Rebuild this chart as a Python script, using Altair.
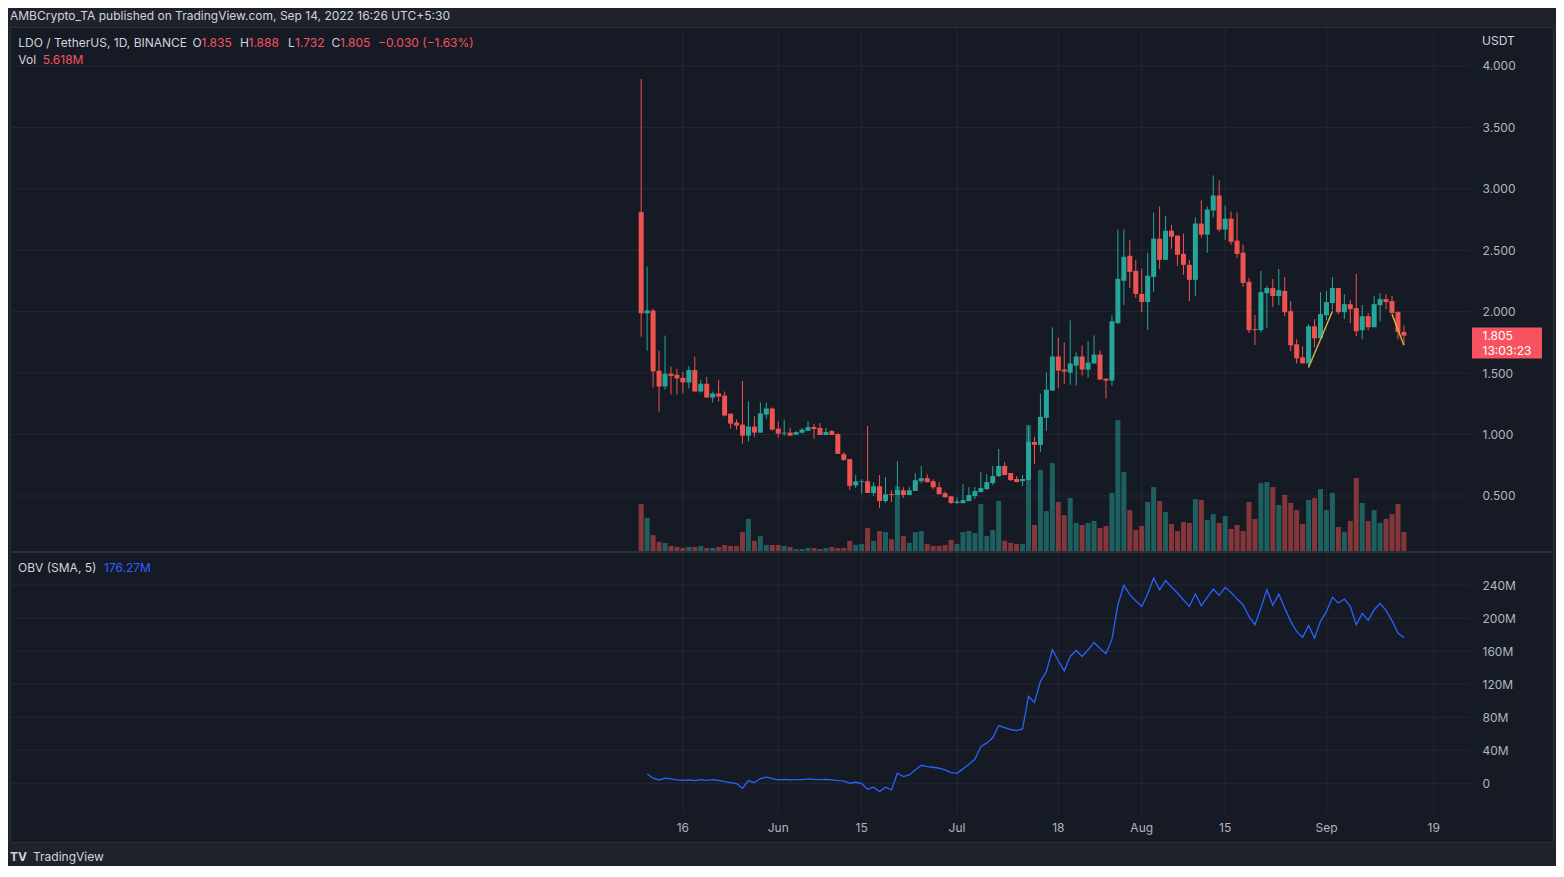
import altair as alt
import pandas as pd
from datetime import datetime, timezone

# ---------------- data ----------------
START_DATE = "2022-05-09"

opens = [2.81, 1.987, 2.009, 1.519, 1.391, 1.495, 1.486, 1.462, 1.424, 1.524,
         1.35, 1.413, 1.301, 1.334, 1.317, 1.17, 1.097, 1.081, 0.991, 1.065,
         1.016, 1.163, 1.212, 1.048, 1.007, 1.015, 0.999, 1.015, 1.031, 1.061,
         1.053, 0.996, 1.028, 1.004, 0.84, 0.8, 0.586, 0.614, 0.62, 0.524,
         0.579, 0.459, 0.516, 0.508, 0.546, 0.508, 0.541, 0.62, 0.645, 0.62,
         0.571, 0.522, 0.497, 0.443, 0.441, 0.458, 0.499, 0.531, 0.556, 0.605,
         0.662, 0.744, 0.687, 0.638, 0.621, 0.629, 0.94, 0.916, 1.136, 1.357,
         1.635, 1.529, 1.504, 1.561, 1.635, 1.529, 1.578, 1.651, 1.455, 1.439,
         1.907, 2.251, 2.455, 2.332, 2.144, 2.079, 2.283, 2.594, 2.422, 2.659,
         2.619, 2.471, 2.381, 2.259, 2.717, 2.627, 2.823, 2.946, 2.668, 2.757,
         2.578, 2.48, 2.243, 1.858, 1.849, 2.151, 2.192, 2.127, 2.168, 2.004,
         1.734, 1.628, 1.579, 1.881, 1.783, 1.971, 2.07, 2.192, 1.996, 2.061,
         2.029, 1.849, 1.963, 1.873, 2.053, 2.102, 2.086, 1.996, 1.835]

highs = [3.894, 2.368, 2.025, 1.682, 1.805, 1.552, 1.535, 1.51, 1.556, 1.633,
         1.446, 1.47, 1.35, 1.446, 1.35, 1.17, 1.122, 1.437, 1.269, 1.147,
         1.261, 1.261, 1.22, 1.106, 1.122, 1.056, 1.028, 1.053, 1.11, 1.086,
         1.094, 1.053, 1.037, 1.012, 0.857, 0.8, 0.669, 0.636, 1.069, 0.612,
         0.669, 0.653, 0.546, 0.783, 0.571, 0.571, 0.685, 0.743, 0.677, 0.636,
         0.612, 0.538, 0.497, 0.49, 0.597, 0.572, 0.572, 0.695, 0.678, 0.744,
         0.883, 0.777, 0.687, 0.662, 0.67, 1.071, 0.982, 1.332, 1.504, 1.872,
         1.79, 1.749, 1.929, 1.668, 1.725, 1.758, 1.807, 1.684, 1.455, 1.97,
         2.668, 2.668, 2.586, 2.422, 2.349, 2.48, 2.807, 2.856, 2.782, 2.708,
         2.619, 2.635, 2.422, 2.766, 2.905, 2.856, 3.109, 3.068, 2.864, 2.815,
         2.807, 2.545, 2.275, 1.973, 2.331, 2.209, 2.266, 2.347, 2.282, 2.086,
         1.775, 1.718, 1.897, 1.939, 2.159, 2.168, 2.282, 2.192, 2.143, 2.094,
         2.307, 2.053, 1.988, 2.127, 2.151, 2.143, 2.127, 2.004, 1.888]

lows = [1.797, 1.682, 1.383, 1.187, 1.366, 1.326, 1.326, 1.334, 1.375, 1.35,
        1.342, 1.301, 1.261, 1.268, 1.147, 1.048, 1.04, 0.926, 0.942, 0.983,
        1.016, 1.13, 1.032, 0.975, 0.99, 0.991, 0.999, 1.007, 1.031, 0.966,
        0.996, 0.996, 0.996, 0.843, 0.786, 0.549, 0.565, 0.516, 0.524, 0.5,
        0.402, 0.443, 0.451, 0.508, 0.484, 0.508, 0.541, 0.604, 0.612, 0.554,
        0.514, 0.489, 0.435, 0.435, 0.441, 0.458, 0.474, 0.531, 0.548, 0.589,
        0.654, 0.67, 0.621, 0.613, 0.58, 0.629, 0.76, 0.858, 1.03, 1.357,
        1.381, 1.414, 1.406, 1.398, 1.48, 1.463, 1.578, 1.447, 1.292, 1.398,
        1.899, 2.055, 2.193, 2.112, 1.997, 1.85, 2.161, 2.349, 2.422, 2.512,
        2.373, 2.3, 2.087, 2.128, 2.602, 2.48, 2.766, 2.651, 2.586, 2.545,
        2.439, 2.202, 1.826, 1.728, 1.832, 1.865, 2.037, 2.053, 1.963, 1.677,
        1.579, 1.579, 1.546, 1.71, 1.783, 1.93, 2.012, 1.98, 1.939, 1.906,
        1.8, 1.775, 1.849, 1.873, 1.922, 2.02, 1.988, 1.775, 1.732]

closes = [1.987, 2.01, 1.514, 1.391, 1.495, 1.478, 1.456, 1.424, 1.524, 1.35,
          1.413, 1.301, 1.334, 1.309, 1.155, 1.089, 1.073, 0.991, 1.065, 1.016,
          1.171, 1.212, 1.04, 1.007, 1.015, 0.991, 1.02, 1.04, 1.061, 1.045,
          0.996, 1.02, 0.996, 0.843, 0.794, 0.582, 0.618, 0.62, 0.524, 0.579,
          0.459, 0.514, 0.508, 0.546, 0.508, 0.546, 0.628, 0.645, 0.612, 0.571,
          0.514, 0.489, 0.443, 0.455, 0.466, 0.507, 0.54, 0.564, 0.613, 0.662,
          0.744, 0.67, 0.629, 0.613, 0.638, 0.94, 0.916, 1.144, 1.365, 1.635,
          1.52, 1.512, 1.578, 1.635, 1.529, 1.586, 1.651, 1.447, 1.439, 1.921,
          2.267, 2.447, 2.324, 2.144, 2.079, 2.292, 2.594, 2.422, 2.659, 2.61,
          2.463, 2.381, 2.259, 2.717, 2.627, 2.831, 2.946, 2.668, 2.757, 2.569,
          2.471, 2.234, 1.85, 1.85, 2.159, 2.192, 2.127, 2.176, 1.996, 1.726,
          1.62, 1.579, 1.881, 1.783, 1.98, 2.078, 2.192, 1.996, 2.061, 2.02,
          1.841, 1.963, 1.873, 2.061, 2.102, 2.078, 1.988, 1.835, 1.805]

volumes_m = [13.9, 9.8, 4.7, 2.7, 2.4, 1.5, 1.2, 0.9, 1.2, 1.2,
             1.5, 0.9, 0.9, 1.2, 1.8, 1.5, 1.5, 5.6, 9.5, 3.0,
             4.4, 1.8, 1.8, 1.8, 1.5, 1.2, 0.6, 0.6, 0.9, 0.9,
             0.6, 0.9, 1.2, 0.9, 0.9, 3.0, 1.8, 2.1, 6.8, 3.0,
             5.9, 5.6, 3.5, 19.2, 4.4, 2.4, 5.6, 5.9, 2.1, 1.5,
             1.5, 1.8, 3.3, 2.1, 5.6, 5.9, 5.3, 13.9, 4.4, 6.2,
             14.8, 3.0, 2.4, 2.1, 2.1, 37.3, 7.7, 24.0, 11.8, 26.0,
             14.5, 10.6, 15.7, 8.3, 7.7, 8.3, 8.9, 6.8, 7.4, 17.2,
             38.7, 23.4, 12.1, 6.2, 7.4, 14.5, 18.9, 14.8, 11.5, 8.0,
             5.9, 8.6, 8.3, 15.4, 15.1, 9.2, 10.9, 8.3, 10.3, 6.5,
             7.7, 5.9, 14.5, 9.5, 20.1, 20.4, 18.9, 13.6, 16.6, 14.2,
             12.1, 8.0, 15.1, 15.7, 18.3, 12.1, 17.2, 7.1, 5.6, 8.9,
             21.6, 14.2, 8.9, 12.1, 8.3, 9.5, 10.9, 13.9, 5.618]

# OBV (millions), from the second day on
obv_m = [11.3, 6.1, 4.0, 6.1, 5.3, 4.0, 3.6, 4.0, 3.2, 4.4,
         3.6, 4.4, 3.6, 2.0, 0.8, -0.4, -6.1, 3.2, 0.8, 5.7,
         7.3, 5.7, 4.0, 4.8, 4.0, 4.4, 4.4, 5.3, 4.8, 4.4,
         4.8, 4.0, 3.2, 2.8, 0.0, 1.2, -0.4, -7.3, -4.8, -10.1,
         -4.8, -8.1, 12.1, 8.1, 10.1, 16.2, 21.8, 20.2, 19.4, 18.2,
         16.2, 12.9, 12.1, 17.4, 23.0, 29.1, 44.4, 48.9, 55.0, 69.9,
         67.5, 65.1, 63.8, 65.7, 105.1, 97.8, 123.2, 135.4, 161.6, 148.3,
         136.2, 153.5, 160.8, 153.5, 161.6, 170.5, 163.2, 156.8, 174.5, 216.2,
         239.6, 228.3, 221.0, 214.1, 229.1, 248.5, 234.3, 245.3, 237.6, 230.3,
         222.2, 214.1, 229.1, 215.0, 225.1, 235.2, 227.5, 237.2, 231.1, 223.0,
         216.2, 202.0, 191.9, 212.1, 234.3, 215.4, 229.1, 212.1, 196.0, 183.8,
         176.6, 191.1, 175.8, 196.0, 208.1, 225.1, 218.2, 223.0, 214.1, 191.9,
         205.7, 197.2, 210.1, 217.8, 209.3, 196.8, 181.8, 176.27]

# drawn trend lines
trend_seg = [1, 1, 2, 2]
trend_dates = ["2022-08-29", "2022-09-02", "2022-09-12", "2022-09-14"]
trend_prices = [1.546, 2.004, 1.980, 1.726]

tick_dates = ["2022-05-16", "2022-06-01", "2022-06-15", "2022-07-01", "2022-07-18",
              "2022-08-01", "2022-08-15", "2022-09-01", "2022-09-19"]
tick_labels = ["16", "Jun", "15", "Jul", "18", "Aug", "15", "Sep", "19"]
price_ticks = [0.5, 1.0, 1.5, 2.0, 2.5, 3.0, 3.5, 4.0]
obv_ticks = [0, 40, 80, 120, 160, 200, 240]

# ---------------- styling / layout ----------------
FONT = "Inter"
BG_OUT = "#1f222b"
BG_IN = "#161a25"
BORDER = "#2b2f3b"
GRID = "#242834"
SEP = "#2a2e39"
TXT = "#b2b5be"
TXT2 = "#d1d4dc"
UP = "#26a69a"
DOWN = "#ef5350"
RED_TXT = "#f7525f"
BLUE = "#2962ff"
YELLOW = "#c9b23a"

W, H = 1543, 815          # whole chart area (page x 10..1553, y 27..842)
PLOT_W = 1460             # data area width (to the price axis)
PRICE_RANGE = [524, 0]
OBV_RANGE = [786, 525]
PRICE_DOM = [0.052, 4.317]
VOL_DOM = [0, 155]
OBV_DOM = [-36, 280]
PX_PER_UNIT = (PRICE_RANGE[0] - PRICE_RANGE[1]) / (PRICE_DOM[1] - PRICE_DOM[0])

DAY_MS = 86400000
PX_PER_DAY = 6.0
base_ms = datetime(2022, 5, 16, tzinfo=timezone.utc).timestamp() * 1000
base_px = 672.5
x_dom = [base_ms - base_px / PX_PER_DAY * DAY_MS,
         base_ms + (PLOT_W - base_px) / PX_PER_DAY * DAY_MS]

X_SCALE = alt.Scale(type="utc", domain=x_dom, range=[0, PLOT_W])
PRICE_SCALE = alt.Scale(domain=PRICE_DOM, range=PRICE_RANGE, zero=False, nice=False)
VOL_SCALE = alt.Scale(domain=VOL_DOM, range=PRICE_RANGE, nice=False)
OBV_SCALE = alt.Scale(domain=OBV_DOM, range=OBV_RANGE, zero=False, nice=False)

dates = pd.date_range(START_DATE, periods=len(closes), freq="D").strftime("%Y-%m-%d").tolist()
df = pd.DataFrame({"date": dates, "open": opens, "high": highs, "low": lows,
                   "close": closes, "vol": volumes_m})
df["dir"] = ["up" if c >= o else "down" for o, c in zip(opens, closes)]

obv_df = pd.DataFrame({"date": dates[1:], "obv": obv_m})
trend_df = pd.DataFrame({"seg": trend_seg, "date": trend_dates, "p": trend_prices})
ticks_df = pd.DataFrame({"date": tick_dates, "lab": tick_labels})

COLOR = alt.Color("dir:N", scale=alt.Scale(domain=["up", "down"], range=[UP, DOWN]), legend=None)
X_NOAXIS = alt.X("date:T", scale=X_SCALE, axis=None)

price_axis = alt.Axis(orient="right", offset=-(W - PLOT_W), values=price_ticks, format=".3f",
                      domain=False, ticks=False, tickSize=0, grid=False, labelPadding=12,
                      labelColor=TXT, labelFont=FONT, labelFontSize=12, title=None,
                      labelOverlap=False)

obv_axis = alt.Axis(orient="right", offset=-(W - PLOT_W), values=obv_ticks,
                    labelExpr="datum.value == 0 ? '0' : datum.value + 'M'",
                    domain=False, ticks=False, tickSize=0, grid=False, labelPadding=12,
                    labelColor=TXT, labelFont=FONT, labelFontSize=12, title=None,
                    labelOverlap=False)

# gridlines
vgrid = alt.Chart(ticks_df).mark_rule(color=GRID, strokeWidth=1).encode(
    x=X_NOAXIS, y=alt.value(0), y2=alt.value(OBV_RANGE[0]))

# time-axis labels, placed through the time scale
xlabels = alt.Chart(ticks_df).mark_text(align="center", baseline="middle", color=TXT,
                                        font=FONT, fontSize=12).encode(
    x=X_NOAXIS, y=alt.value(OBV_RANGE[0] + 15), text="lab:N")

pgrid = alt.Chart(pd.DataFrame({"p": price_ticks})).mark_rule(color=GRID, strokeWidth=1).encode(
    y=alt.Y("p:Q", scale=PRICE_SCALE, axis=price_axis),
    x=alt.value(0), x2=alt.value(PLOT_W))

ogrid = alt.Chart(pd.DataFrame({"g": obv_ticks})).mark_rule(color=GRID, strokeWidth=1).encode(
    y=alt.Y("g:Q", scale=OBV_SCALE, axis=obv_axis),
    x=alt.value(0), x2=alt.value(PLOT_W))

base = alt.Chart(df)

vol = base.mark_bar(width=5, opacity=0.5).encode(
    x=X_NOAXIS, y=alt.Y("vol:Q", scale=VOL_SCALE, axis=None), color=COLOR)

wicks = base.mark_rule(strokeWidth=1).encode(
    x=X_NOAXIS, y=alt.Y("low:Q", scale=PRICE_SCALE, axis=None), y2="high:Q", color=COLOR)

bodies = base.mark_bar(width=5).encode(
    x=X_NOAXIS, y=alt.Y("open:Q", scale=PRICE_SCALE, axis=None), y2="close:Q", color=COLOR)

trend = alt.Chart(trend_df).mark_line(color=YELLOW, strokeWidth=1.5).encode(
    x=X_NOAXIS, y=alt.Y("p:Q", scale=PRICE_SCALE, axis=None), detail="seg:N")

obv_line = alt.Chart(obv_df).mark_line(color=BLUE, strokeWidth=1.3).encode(
    x=X_NOAXIS, y=alt.Y("obv:Q", scale=OBV_SCALE, axis=None))

separator = alt.Chart(pd.DataFrame({"a": [0]})).mark_rule(color=SEP, strokeWidth=2).encode(
    x=alt.value(0), x2=alt.value(W), y=alt.value(PRICE_RANGE[0] + 1))

# last price marker
last_df = pd.DataFrame({"close": [closes[-1]]})
price_box = alt.Chart(last_df).transform_calculate(
    top=f"datum.close + {8.1 / PX_PER_UNIT}", bot=f"datum.close - {22.9 / PX_PER_UNIT}"
).mark_rect(color=RED_TXT).encode(
    y=alt.Y("top:Q", scale=PRICE_SCALE, axis=None), y2="bot:Q",
    x=alt.value(PLOT_W + 2), x2=alt.value(PLOT_W + 72))
price_txt = alt.Chart(last_df).mark_text(align="left", baseline="middle", color="white",
                                          font=FONT, fontSize=12).encode(
    y=alt.Y("close:Q", scale=PRICE_SCALE, axis=None), x=alt.value(PLOT_W + 12.5),
    text=alt.Text("close:Q", format=".3f"))
timer_txt = alt.Chart(last_df).mark_text(align="left", baseline="middle", color="white",
                                          font=FONT, fontSize=12, dy=15).encode(
    y=alt.Y("close:Q", scale=PRICE_SCALE, axis=None), x=alt.value(PLOT_W + 12.5),
    text=alt.value("13:03:23"))


def txt(s, x, y, color, size=12, weight="normal"):
    return alt.Chart(pd.DataFrame({"t": [s]})).mark_text(
        align="left", baseline="middle", color=color, font=FONT, fontSize=size,
        fontWeight=weight).encode(text="t:N", x=alt.value(x), y=alt.value(y))


chg = closes[-1] - closes[-2]
pct = chg / closes[-2] * 100
sign = "−" if chg < 0 else "+"
texts = [
    txt("AMBCrypto_TA published on TradingView.com, Sep 14, 2022 16:26 UTC+5:30", 0, -11.5, TXT2, 12),
    txt("LDO / TetherUS, 1D, BINANCE", 8.3, 15.7, TXT2, 12),
    txt("O", 182.5, 15.7, TXT2, 12), txt(f"{opens[-1]:.3f}", 191.5, 15.7, RED_TXT, 12),
    txt("H", 230, 15.7, TXT2, 12), txt(f"{highs[-1]:.3f}", 238.5, 15.7, RED_TXT, 12),
    txt("L", 278, 15.7, TXT2, 12), txt(f"{lows[-1]:.3f}", 285, 15.7, RED_TXT, 12),
    txt("C", 321.5, 15.7, TXT2, 12), txt(f"{closes[-1]:.3f}", 330, 15.7, RED_TXT, 12),
    txt(f"{sign}{abs(chg):.3f} ({sign}{abs(pct):.2f}%)", 368, 15.7, RED_TXT, 12),
    txt("Vol", 8.3, 33, TXT2, 12), txt(f"{volumes_m[-1]:.3f}M", 32.7, 33, RED_TXT, 12),
    txt("OBV (SMA, 5)", 8, 540.5, TXT2, 12), txt(f"{obv_m[-1]:.2f}M", 94, 540.5, BLUE, 12),
    txt("USDT", PLOT_W + 12, 14, TXT2, 12),
    txt("TV", 0, 830, TXT2, 12, "bold"),
    txt("TradingView", 23, 830, TXT2, 12),
]

chart = alt.layer(
    vgrid, pgrid, ogrid, vol, wicks, bodies, trend, obv_line, separator,
    price_box, price_txt, timer_txt, xlabels, *texts
).resolve_scale(y="independent").properties(
    width=W, height=H,
    autosize=alt.AutoSizeParams(type="none"),
    padding={"left": 2, "top": 19, "right": 3, "bottom": 24},
).configure(background=BG_OUT).configure_view(fill=BG_IN, stroke=BORDER, strokeWidth=1)

chart.save("out.html", embed_options={"renderer": "svg", "actions": False})
